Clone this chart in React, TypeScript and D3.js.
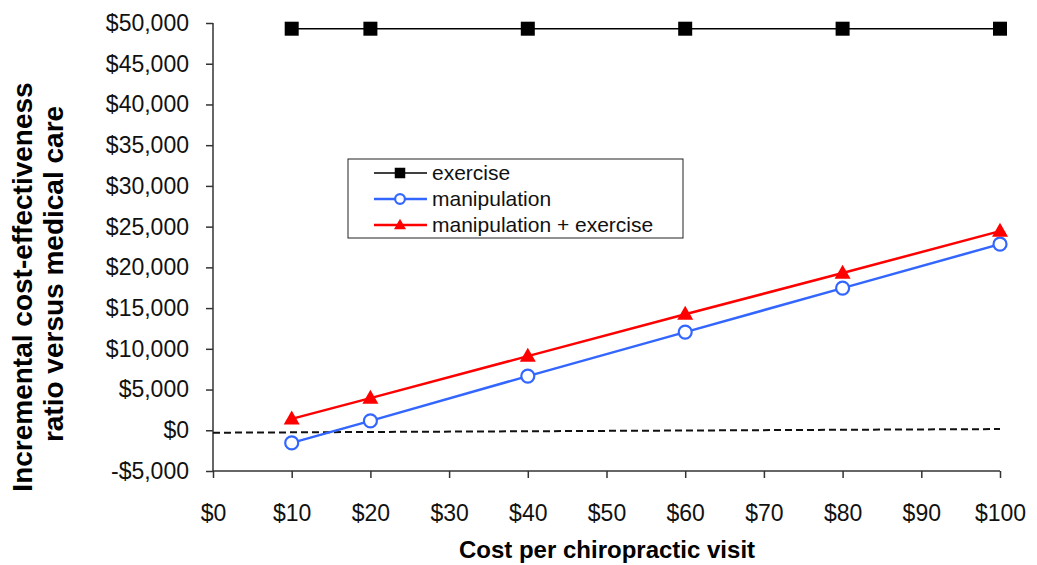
import React, { useRef, useEffect } from 'react';
import * as d3 from 'd3';

const costs = [10, 20, 40, 60, 80, 100];
const exercise = [49300, 49300, 49300, 49300, 49300, 49300];
const manipulation = [-1550, 1150, 6650, 12050, 17450, 22850];
const manipExercise = [1400, 3950, 9100, 14250, 19300, 24450];
const baselineX = [0, 100];
const baselineY = [-300, 150];
const xTicks = [0, 10, 20, 30, 40, 50, 60, 70, 80, 90, 100];
const yTicks = [-5000, 0, 5000, 10000, 15000, 20000, 25000, 30000, 35000, 40000, 45000, 50000];
const seriesNames = ['exercise', 'manipulation', 'manipulation + exercise'];

const W = 1037;
const H = 565;
const FONT = 'Liberation Sans, Arial, sans-serif';

const App: React.FC = () => {
  const svgRef = useRef<SVGSVGElement | null>(null);

  useEffect(() => {
    const svg = d3.select(svgRef.current);
    svg.selectAll('*').remove();

    const x = d3.scaleLinear().domain([0, 100]).range([213, 1000]);
    const y = d3.scaleLinear().domain([-5000, 50000]).range([471, 23]);

    const fmt = (v: number) => (v < 0 ? '-$' : '$') + d3.format(',')(Math.abs(v));

    // axes
    const xAxis = svg.append('g')
      .attr('transform', `translate(0,${y(-5000)})`)
      .call(d3.axisBottom(x).tickValues(xTicks).tickSize(7).tickFormat(d => '$' + d));
    const yAxis = svg.append('g')
      .attr('transform', `translate(${x(0)},0)`)
      .call(d3.axisLeft(y).tickValues(yTicks).tickSize(7).tickPadding(17).tickFormat(d => fmt(d as number)));
    [xAxis, yAxis].forEach(a => {
      a.select('.domain').attr('stroke', '#333').attr('stroke-width', 1.5);
      a.selectAll('.tick line').attr('stroke', '#333').attr('stroke-width', 1.5);
      a.selectAll('.tick text').attr('fill', '#111').style('font-family', FONT).style('font-size', '23px');
    });
    xAxis.selectAll('.tick text').attr('y', 50).attr('dy', 0);
    xAxis.select('.domain').attr('d', `M${x(0)},0H${x(100)}`);
    yAxis.select('.domain').attr('d', `M0,${y(50000)}V${y(-5000)}`);

    // dashed baseline
    const line = d3.line<[number, number]>().x(d => x(d[0])).y(d => y(d[1]));
    svg.append('path')
      .datum(baselineX.map((v, i) => [v, baselineY[i]] as [number, number]))
      .attr('d', line)
      .attr('fill', 'none')
      .attr('stroke', '#111')
      .attr('stroke-width', 2)
      .attr('stroke-dasharray', '7,4');

    const series = [
      { vals: exercise, color: '#000000', width: 1.5, marker: 'square' },
      { vals: manipulation, color: '#3366ff', width: 2.5, marker: 'circle' },
      { vals: manipExercise, color: '#ff0000', width: 2.5, marker: 'triangle' },
    ];

    const drawMarker = (g: any, cx: number, cy: number, kind: string, color: string, scale = 1) => {
      if (kind === 'square') {
        const s = 14 * scale;
        g.append('rect').attr('x', cx - s / 2).attr('y', cy - s / 2).attr('width', s).attr('height', s).attr('fill', '#000');
      } else if (kind === 'circle') {
        g.append('circle').attr('cx', cx).attr('cy', cy).attr('r', 6.5 * scale).attr('fill', '#fff').attr('stroke', color).attr('stroke-width', 2.2);
      } else {
        const s = 16 * scale;
        const h = s * 0.87;
        g.append('path')
          .attr('d', `M${cx},${cy - h * 0.6}L${cx + s / 2},${cy + h * 0.4}L${cx - s / 2},${cy + h * 0.4}Z`)
          .attr('fill', color);
      }
    };

    series.forEach(s => {
      const g = svg.append('g');
      g.append('path')
        .datum(costs.map((c, i) => [c, s.vals[i]] as [number, number]))
        .attr('d', line)
        .attr('fill', 'none')
        .attr('stroke', s.color)
        .attr('stroke-width', s.width);
      costs.forEach((c, i) => drawMarker(g, x(c), y(s.vals[i]), s.marker, s.color));
    });

    // legend
    const lg = svg.append('g');
    lg.append('rect').attr('x', 348).attr('y', 159).attr('width', 335).attr('height', 79)
      .attr('fill', '#fff').attr('stroke', '#222').attr('stroke-width', 1);
    series.forEach((s, i) => {
      const ly = 173 + i * 26;
      lg.append('line').attr('x1', 374).attr('x2', 427).attr('y1', ly).attr('y2', ly)
        .attr('stroke', s.color).attr('stroke-width', s.width);
      drawMarker(lg, 400, ly, s.marker, s.color, 0.75);
      lg.append('text').attr('x', 432).attr('y', ly + 7).text(seriesNames[i])
        .style('font-family', FONT).style('font-size', '21px').attr('fill', '#111');
    });

    // titles
    svg.append('text')
      .attr('x', 607).attr('y', 558)
      .attr('text-anchor', 'middle')
      .style('font-family', FONT).style('font-size', '24px').style('font-weight', 'bold')
      .text('Cost per chiropractic visit');
    const ytitle = [
      { text: 'Incremental cost-effectiveness', cy: 287, bx: 32 },
      { text: 'ratio versus medical care', cy: 274, bx: 63 },
    ];
    ytitle.forEach(t => {
      svg.append('text')
        .attr('transform', `translate(${t.bx},${t.cy}) rotate(-90)`)
        .attr('text-anchor', 'middle')
        .style('font-family', FONT).style('font-size', '28px').style('font-weight', 'bold')
        .text(t.text);
    });
  }, []);

  return (
    <svg ref={svgRef} width={W} height={H}
      style={{ position: 'absolute', left: 0, top: 0, background: '#fff' }} />
  );
};

export default App;
